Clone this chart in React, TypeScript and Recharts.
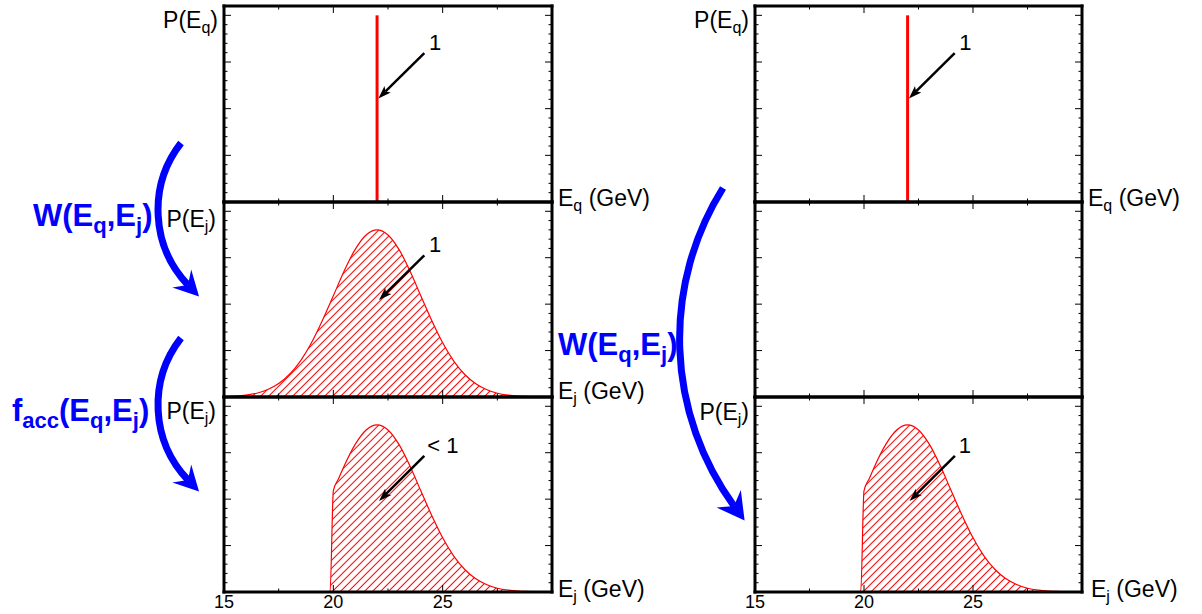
import React from "react";
import { ComposedChart, Area, Line, XAxis, YAxis, ReferenceLine, ReferenceDot } from "recharts";

// jet energy grid (GeV) and the smeared response P(Ej)
const energyGrid = [15, 15.5, 16, 16.5, 17, 17.5, 18, 18.5, 19, 19.5, 20, 20.5, 21, 21.5, 22, 22.5, 23, 23.5, 24, 24.5, 25, 25.5, 26, 26.5, 27, 27.5, 28, 28.5, 29, 29.5, 30];
const smearedP = [0.01, 0.02, 0.04, 0.08, 0.16, 0.29, 0.49, 0.78, 1.17, 1.65, 2.18, 2.72, 3.18, 3.49, 3.6, 3.49, 3.18, 2.72, 2.18, 1.65, 1.17, 0.78, 0.49, 0.29, 0.16, 0.08, 0.04, 0.02, 0.01, 0, 0];

// after the acceptance cut (nothing below ~20 GeV)
const acceptedGrid = [15, 19.85, 20, 20.25, 20.5, 21, 21.5, 22, 22.5, 23, 23.5, 24, 24.5, 25, 25.5, 26, 26.5, 27, 27.5, 28, 28.5, 29, 29.5, 30];
const acceptedP = [0, 0, 2.18, 2.45, 2.72, 3.18, 3.49, 3.6, 3.49, 3.18, 2.72, 2.18, 1.65, 1.17, 0.78, 0.49, 0.29, 0.16, 0.08, 0.04, 0.02, 0.01, 0, 0];

// parton energy: delta spike at 22 GeV
const spikeGrid = [22, 22];
const spikeP = [0, 4];

const xTicks = [15, 17.5, 20, 22.5, 25, 27.5, 30];
const xTickLabels = [15, 20, 25];
const yTicks = [0, 0.2, 0.4, 0.6, 0.8, 1, 1.2, 1.4, 1.6, 1.8, 2, 2.2, 2.4, 2.6, 2.8, 3, 3.2, 3.4, 3.6, 3.8, 4, 4.2];

const smearedRows = energyGrid.map((e, i) => ({ e, p: smearedP[i] }));
const acceptedRows = acceptedGrid.map((e, i) => ({ e, p: acceptedP[i] }));
const spikeRows = spikeGrid.map((e, i) => ({ e, p: spikeP[i] }));

const FONT = "'Liberation Sans', Arial, Helvetica, sans-serif";
const RED = "#ff0000";
const BLUE = "#0000ff";

const xTick = (side: "bottom" | "top", withLabels: boolean) => (props: any) => {
  const { x, y, payload } = props;
  const v = payload.value;
  const len = v % 5 === 0 ? 7 : 3.5;
  const dir = side === "bottom" ? -1 : 1;
  return (
    <g>
      <line x1={x} x2={x} y1={y} y2={y + dir * len} stroke="#000" strokeWidth={1} />
      {withLabels && xTickLabels.includes(v) && (
        <text x={x} y={y + 16} textAnchor="middle" fill="#000" style={{ fontSize: 18, fontFamily: FONT }}>
          {v}
        </text>
      )}
    </g>
  );
};

const yTick = (side: "left" | "right") => (props: any) => {
  const { x, y, payload } = props;
  const v = payload.value;
  const len = Math.abs(v - Math.round(v)) < 1e-6 ? 7 : 3.5;
  const dir = side === "left" ? 1 : -1;
  return <line x1={x} x2={x + dir * len} y1={y} y2={y} stroke="#000" strokeWidth={1} />;
};

const ArrowShape = (props: any) => {
  const { x1, y1, x2, y2 } = props;
  const dx = x2 - x1;
  const dy = y2 - y1;
  const L = Math.hypot(dx, dy) || 1;
  const ux = dx / L;
  const uy = dy / L;
  const hl = 13;
  const hw = 4.5;
  const bx = x2 - ux * hl;
  const by = y2 - uy * hl;
  return (
    <g>
      <line x1={x1} y1={y1} x2={bx + ux * 3} y2={by + uy * 3} stroke="#000" strokeWidth={2.5} />
      <polygon points={`${x2},${y2} ${bx - uy * hw},${by + ux * hw} ${bx + ux * 3},${by + uy * 3} ${bx + uy * hw},${by - ux * hw}`} fill="#000" />
    </g>
  );
};

interface Note {
  text: string;
  x: number;
  y: number;
  anchor: "start" | "middle";
}

interface PanelProps {
  left: number;
  top: number;
  width: number;
  height: number;
  kind: "spike" | "area" | "none";
  rows: { e: number; p: number }[];
  hatchId: string;
  tickLabels?: boolean;
  note?: Note;
  arrow?: [number, number, number, number];
}

const AXIS = 1;
const PADX = 14;
const PADY = 4;

function Panel({ left, top, width, height, kind, rows, hatchId, tickLabels, note, arrow }: PanelProps) {
  const padB = tickLabels ? 26 : PADY;
  const m = { top: PADY - AXIS, right: PADX - AXIS, bottom: padB - AXIS, left: PADX - AXIS };
  const frame = { stroke: "#000", strokeWidth: 3, strokeLinecap: "square" as const };
  return (
    <div style={{ position: "absolute", left: left - PADX, top: top - PADY }}>
      <ComposedChart width={width + 2 * PADX} height={height + PADY + padB} data={rows} margin={m}>
        <defs>
          <pattern id={hatchId} patternUnits="userSpaceOnUse" width={5.66} height={5.66} patternTransform="rotate(45)">
            <rect x={0} y={0} width={1} height={5.66} fill={RED} />
          </pattern>
        </defs>
        <XAxis xAxisId="b" orientation="bottom" type="number" dataKey="e" domain={[15, 30]} allowDataOverflow ticks={xTicks} interval={0} height={AXIS} tickSize={0} tickMargin={0} tickLine={false} axisLine={frame} tick={xTick("bottom", !!tickLabels)} />
        <XAxis xAxisId="t" orientation="top" type="number" dataKey="e" domain={[15, 30]} allowDataOverflow ticks={xTicks} interval={0} height={AXIS} tickSize={0} tickMargin={0} tickLine={false} axisLine={frame} tick={xTick("top", false)} />
        <YAxis yAxisId="l" orientation="left" type="number" domain={[0, 4.2]} allowDataOverflow ticks={yTicks} interval={0} width={AXIS} tickSize={0} tickMargin={0} tickLine={false} axisLine={frame} tick={yTick("left")} />
        <YAxis yAxisId="r" orientation="right" type="number" domain={[0, 4.2]} allowDataOverflow ticks={yTicks} interval={0} width={AXIS} tickSize={0} tickMargin={0} tickLine={false} axisLine={frame} tick={yTick("right")} />
        {kind === "area" && (
          <Area xAxisId="b" yAxisId="l" type="monotone" dataKey="p" stroke={RED} strokeWidth={1.2} fill={`url(#${hatchId})`} fillOpacity={1} dot={false} activeDot={false} isAnimationActive={false} />
        )}
        {kind === "spike" && (
          <Line xAxisId="b" yAxisId="l" type="linear" dataKey="p" stroke={RED} strokeWidth={3} dot={false} activeDot={false} isAnimationActive={false} />
        )}
        {arrow && (
          <ReferenceLine xAxisId="b" yAxisId="l" segment={[{ x: arrow[0], y: arrow[1] }, { x: arrow[2], y: arrow[3] }]} shape={ArrowShape} />
        )}
        {note && (
          <ReferenceDot
            xAxisId="b"
            yAxisId="l"
            x={note.x}
            y={note.y}
            r={0}
            shape={(p: any) => (
              <text x={p.cx} y={p.cy} textAnchor={note.anchor} fill="#000" style={{ fontSize: 22, fontFamily: FONT }}>
                {note.text}
              </text>
            )}
          />
        )}
      </ComposedChart>
    </div>
  );
}

type Part = [string, boolean];

function Formula({ x, y, parts, size, subSize, shift, anchor = "start", bold = false, fill = "#000" }: {
  x: number; y: number; parts: Part[]; size: number; subSize: number; shift: number; anchor?: "start" | "end"; bold?: boolean; fill?: string;
}) {
  let level = 0;
  return (
    <text x={x} y={y} textAnchor={anchor} fill={fill} style={{ whiteSpace: "pre", fontSize: size, fontFamily: FONT, fontWeight: bold ? "bold" : "normal" }}>
      {parts.map(([t, sub], i) => {
        const dy = sub ? (level === 0 ? shift : 0) : level === 1 ? -shift : 0;
        level = sub ? 1 : 0;
        return (
          <tspan key={i} dy={dy} style={{ fontSize: sub ? subSize : size }}>
            {t}
          </tspan>
        );
      })}
    </text>
  );
}

const pEq: Part[] = [["P(E", false], ["q", true], [")", false]];
const pEj: Part[] = [["P(E", false], ["j", true], [")", false]];
const eqAxis: Part[] = [["E", false], ["q", true], [" (GeV)", false]];
const ejAxis: Part[] = [["E", false], ["j", true], [" (GeV)", false]];
const wLabel: Part[] = [["W(E", false], ["q", true], [",E", false], ["j", true], [")", false]];
const facLabel: Part[] = [["f", false], ["acc", true], ["(E", false], ["q", true], [",E", false], ["j", true], [")", false]];

function BlueArc({ d, end, dir, len, half, notch }: { d: string; end: [number, number]; dir: [number, number]; len: number; half: number; notch: number }) {
  const [ex, ey] = end;
  const [ux, uy] = dir;
  const tx = ex + ux * notch;
  const ty = ey + uy * notch;
  const bx = tx - ux * len;
  const by = ty - uy * len;
  const pts = `${tx},${ty} ${bx - uy * half},${by + ux * half} ${ex},${ey} ${bx + uy * half},${by - ux * half}`;
  return (
    <g>
      <path d={d} fill="none" stroke={BLUE} strokeWidth={7} />
      <polygon points={pts} fill={BLUE} />
    </g>
  );
}

const LX = 224;
const RX = 755;
const W = 328;
const ROWS = [
  { top: 6, height: 196 },
  { top: 202, height: 195 },
  { top: 397, height: 195 },
];

export default function App() {
  return (
    <div style={{ position: "absolute", left: 0, top: 0, width: 1202, height: 614, background: "#fff", fontFamily: FONT, overflow: "hidden" }}>
      <Panel left={LX} top={ROWS[0].top} width={W} height={ROWS[0].height} kind="spike" rows={spikeRows} hatchId="hq1" note={{ text: "1", x: 24.65, y: 3.26, anchor: "middle" }} arrow={[24.16, 3.19, 22.06, 2.22]} />
      <Panel left={LX} top={ROWS[1].top} width={W} height={ROWS[1].height} kind="area" rows={smearedRows} hatchId="hj1" note={{ text: "1", x: 24.65, y: 3.12, anchor: "middle" }} arrow={[24.16, 3.05, 22.09, 2.09]} />
      <Panel left={LX} top={ROWS[2].top} width={W} height={ROWS[2].height} kind="area" rows={acceptedRows} hatchId="ha1" tickLabels note={{ text: "< 1", x: 24.3, y: 3.0, anchor: "start" }} arrow={[24.16, 2.93, 22.09, 1.96]} />
      <Panel left={RX} top={ROWS[0].top} width={W - 1} height={ROWS[0].height} kind="spike" rows={spikeRows} hatchId="hq2" note={{ text: "1", x: 24.65, y: 3.26, anchor: "middle" }} arrow={[24.16, 3.19, 22.06, 2.22]} />
      <Panel left={RX} top={ROWS[1].top} width={W - 1} height={ROWS[1].height} kind="none" rows={smearedRows} hatchId="hj2" />
      <Panel left={RX} top={ROWS[2].top} width={W - 1} height={ROWS[2].height} kind="area" rows={acceptedRows} hatchId="ha2" tickLabels note={{ text: "1", x: 24.63, y: 3.0, anchor: "middle" }} arrow={[24.17, 2.93, 22.09, 1.96]} />
      <svg width={1202} height={614} style={{ position: "absolute", left: 0, top: 0, pointerEvents: "none" }}>
        <Formula x={218} y={28} parts={pEq} size={23} subSize={16} shift={5} anchor="end" />
        <Formula x={216} y={227} parts={pEj} size={23} subSize={16} shift={5} anchor="end" />
        <Formula x={216} y={419} parts={pEj} size={23} subSize={16} shift={5} anchor="end" />
        <Formula x={749} y={28} parts={pEq} size={23} subSize={16} shift={5} anchor="end" />
        <Formula x={749} y={420} parts={pEj} size={23} subSize={16} shift={5} anchor="end" />

        <Formula x={558} y={206} parts={eqAxis} size={23} subSize={16} shift={5} />
        <Formula x={558} y={399} parts={ejAxis} size={23} subSize={16} shift={5} />
        <Formula x={558} y={597} parts={ejAxis} size={23} subSize={16} shift={5} />
        <Formula x={1088} y={206} parts={eqAxis} size={23} subSize={16} shift={5} />
        <Formula x={1091} y={597} parts={ejAxis} size={23} subSize={16} shift={5} />

        <Formula x={33} y={226} parts={wLabel} size={31} subSize={22} shift={7} bold fill={BLUE} />
        <Formula x={12} y={421} parts={facLabel} size={31} subSize={22} shift={7} bold fill={BLUE} />
        <Formula x={558} y={355} parts={wLabel} size={31} subSize={22} shift={7} bold fill={BLUE} />

        <BlueArc d="M181,143 A109,109 0 0 0 188,285" end={[188, 285]} dir={[0.689, 0.724]} len={25} half={13} notch={16} />
        <BlueArc d="M181,338 A109,109 0 0 0 188,480" end={[188, 480]} dir={[0.689, 0.724]} len={25} half={13} notch={16} />
        <BlueArc d="M723,188 A284,284 0 0 0 734,506" end={[734, 506]} dir={[0.589, 0.808]} len={27} half={15} notch={18} />
      </svg>
    </div>
  );
}
